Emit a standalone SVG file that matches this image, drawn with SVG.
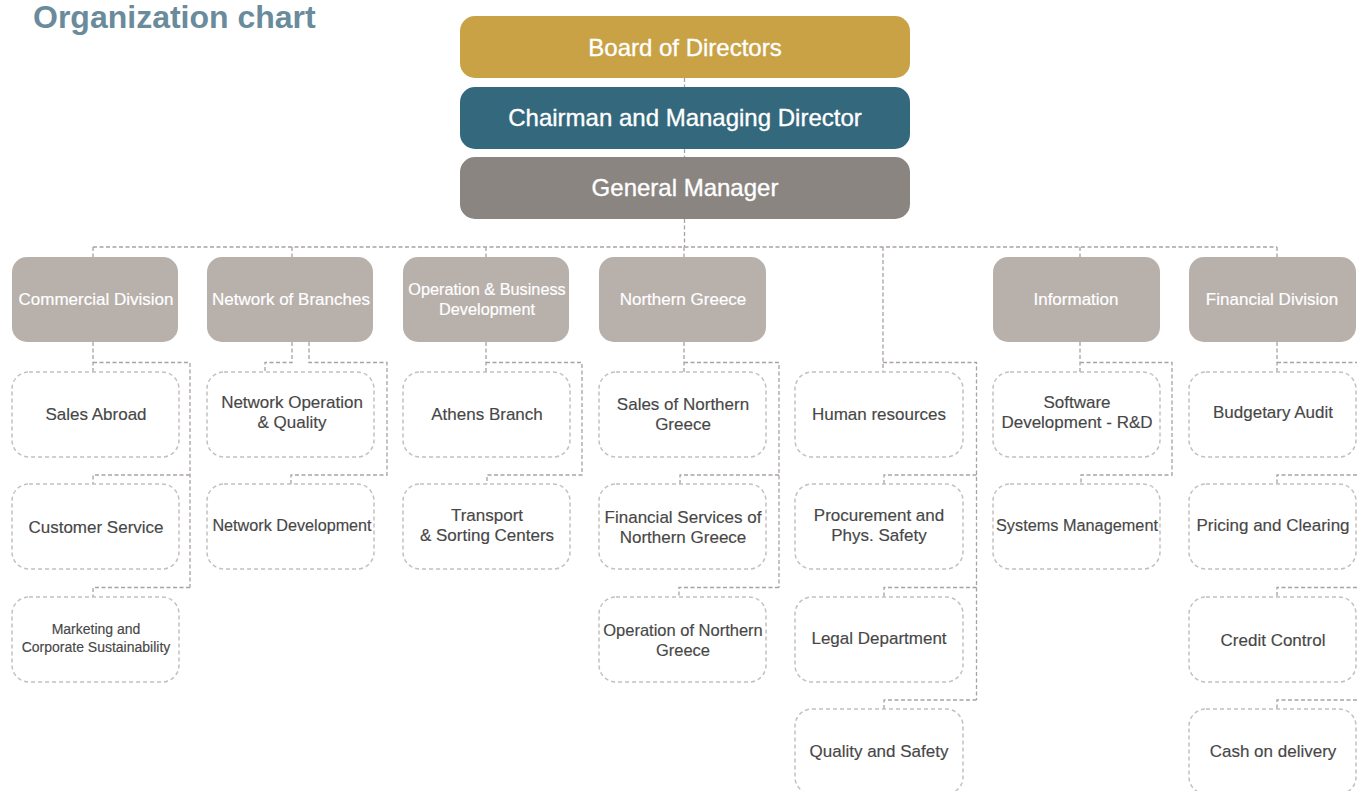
<svg xmlns="http://www.w3.org/2000/svg" width="1357" height="791" viewBox="0 0 1357 791">
<style>
.title{font-family:"Liberation Sans",Arial,sans-serif;font-weight:bold;font-size:32px;fill:#698b9b}
.top{font-family:"Liberation Sans",Arial,sans-serif;font-size:24px;fill:#fff;stroke:#fff;stroke-width:0.35;text-anchor:middle}
.div{fill:#b8b0ab}
.divt{font-family:"Liberation Sans",Arial,sans-serif;font-size:17px;fill:#fff;stroke:#fff;stroke-width:0.2;text-anchor:middle}
.sub{fill:#fff;stroke:#c4c0be;stroke-width:1.5;stroke-dasharray:4 3}
.subt{font-family:"Liberation Sans",Arial,sans-serif;font-size:17px;fill:#474747;stroke:#474747;stroke-width:0.15;text-anchor:middle}
.conn path{fill:none;stroke:#aaa2a0;stroke-width:1.3;stroke-dasharray:4 2.5}
</style>
<text class="title" x="33" y="28">Organization chart</text>

<g class="conn" id="connectors">
<path d="M684.5 78V87M684.5 149V157M684.5 219V247"/>
<path d="M93 247H1277"/>
<path d="M93 247V257M292 247V257M486 247V257M684 247V257M1080 247V257M1277 247V257"/>
<!-- Commercial -->
<path d="M93 342V372M93 362.5H190V587.5M190 475H93V484M190 587.5H93V597"/>
<!-- Network -->
<path d="M292 342V362.5H265V372M309 342V362.5H387V475H291V484"/>
<!-- Operation -->
<path d="M486 342V372M486 362.5H582V475H487V484"/>
<!-- Northern Greece -->
<path d="M684 342V372M684 362.5H779V587.5M779 475H680V484M779 587.5H679V597"/>
<!-- HR column -->
<path d="M883 247V372M883 362.5H976.5V700M976.5 475H884V484M976.5 587.5H884V597M976.5 700H884V709"/>
<!-- Information -->
<path d="M1080 342V372M1080 362.5H1172V475H1081V484"/>
<!-- Financial -->
<path d="M1277 342V372M1277 362.5H1370V700M1370 475H1277V484M1370 587.5H1277V597M1370 700H1277V709"/>
</g>

<g id="board"><rect x="460" y="16" width="450" height="62" rx="15" fill="#c8a245"/><text class="top" x="685" y="56">Board of Directors</text></g>
<g id="chairman"><rect x="460" y="87" width="450" height="62" rx="15" fill="#33687d"/><text class="top" x="685" y="126">Chairman and Managing Director</text></g>
<g id="gm"><rect x="460" y="157" width="450" height="62" rx="15" fill="#8a8581"/><text class="top" x="685" y="196">General Manager</text></g>

<g id="commercial"><rect class="div" x="12" y="257" width="166" height="85" rx="15"/><text class="divt" x="96" y="305">Commercial Division</text></g>
<g id="network"><rect class="div" x="207" y="257" width="166" height="85" rx="15"/><text class="divt" x="291" y="305">Network of Branches</text></g>
<g id="operation"><rect class="div" x="403" y="257" width="166" height="85" rx="15"/><text class="divt" x="487" y="295" style="font-size:16.3px">Operation &amp; Business</text><text class="divt" x="487" y="315" style="font-size:16.3px">Development</text></g>
<g id="northern"><rect class="div" x="599" y="257" width="167" height="85" rx="15"/><text class="divt" x="683" y="305">Northern Greece</text></g>
<g id="information"><rect class="div" x="993" y="257" width="167" height="85" rx="15"/><text class="divt" x="1076" y="305">Information</text></g>
<g id="financial"><rect class="div" x="1189" y="257" width="167" height="85" rx="15"/><text class="divt" x="1272" y="305">Financial Division</text></g>

<!-- Commercial children -->
<g id="sales-abroad"><rect class="sub" x="12" y="372" width="167" height="85" rx="17"/><text class="subt" x="96" y="420">Sales Abroad</text></g>
<g id="customer-service"><rect class="sub" x="12" y="484" width="167" height="85" rx="17"/><text class="subt" x="96" y="533">Customer Service</text></g>
<g id="marketing"><rect class="sub" x="12" y="597" width="167" height="85" rx="17"/><text class="subt" x="96" y="634" style="font-size:14px">Marketing and</text><text class="subt" x="96" y="652" style="font-size:14px">Corporate Sustainability</text></g>

<!-- Network children -->
<g id="network-operation"><rect class="sub" x="207" y="372" width="167" height="85" rx="17"/><text class="subt" x="292" y="408">Network Operation</text><text class="subt" x="292" y="428">&amp; Quality</text></g>
<g id="network-development"><rect class="sub" x="207" y="484" width="167" height="85" rx="17"/><text class="subt" x="292" y="531" style="font-size:16.2px">Network Development</text></g>

<!-- Operation children -->
<g id="athens-branch"><rect class="sub" x="403" y="372" width="167" height="85" rx="17"/><text class="subt" x="487" y="420">Athens Branch</text></g>
<g id="transport"><rect class="sub" x="403" y="484" width="167" height="85" rx="17"/><text class="subt" x="487" y="521">Transport</text><text class="subt" x="487" y="541">&amp; Sorting Centers</text></g>

<!-- Northern Greece children -->
<g id="sales-northern"><rect class="sub" x="599" y="372" width="167" height="85" rx="17"/><text class="subt" x="683" y="410">Sales of Northern</text><text class="subt" x="683" y="430">Greece</text></g>
<g id="financial-northern"><rect class="sub" x="599" y="484" width="167" height="85" rx="17"/><text class="subt" x="683" y="523">Financial Services of</text><text class="subt" x="683" y="543">Northern Greece</text></g>
<g id="operation-northern"><rect class="sub" x="599" y="597" width="167" height="85" rx="17"/><text class="subt" x="683" y="636" style="font-size:16.5px">Operation of Northern</text><text class="subt" x="683" y="656" style="font-size:16.5px">Greece</text></g>

<!-- HR column -->
<g id="human-resources"><rect class="sub" x="795" y="372" width="168" height="85" rx="17"/><text class="subt" x="879" y="420">Human resources</text></g>
<g id="procurement"><rect class="sub" x="795" y="484" width="168" height="85" rx="17"/><text class="subt" x="879" y="521">Procurement and</text><text class="subt" x="879" y="541">Phys. Safety</text></g>
<g id="legal"><rect class="sub" x="795" y="597" width="168" height="85" rx="17"/><text class="subt" x="879" y="644">Legal Department</text></g>
<g id="quality-safety"><rect class="sub" x="795" y="709" width="168" height="85" rx="17"/><text class="subt" x="879" y="757">Quality and Safety</text></g>

<!-- Information children -->
<g id="software"><rect class="sub" x="993" y="372" width="167" height="85" rx="17"/><text class="subt" x="1077" y="408">Software</text><text class="subt" x="1077" y="428">Development - R&amp;D</text></g>
<g id="systems"><rect class="sub" x="993" y="484" width="167" height="85" rx="17"/><text class="subt" x="1077" y="531" style="font-size:16.3px">Systems Management</text></g>

<!-- Financial children -->
<g id="budgetary"><rect class="sub" x="1189" y="372" width="167" height="85" rx="17"/><text class="subt" x="1273" y="418">Budgetary Audit</text></g>
<g id="pricing"><rect class="sub" x="1189" y="484" width="167" height="85" rx="17"/><text class="subt" x="1273" y="531">Pricing and Clearing</text></g>
<g id="credit"><rect class="sub" x="1189" y="597" width="167" height="85" rx="17"/><text class="subt" x="1273" y="646">Credit Control</text></g>
<g id="cod"><rect class="sub" x="1189" y="709" width="167" height="85" rx="17"/><text class="subt" x="1273" y="757">Cash on delivery</text></g>
</svg>
